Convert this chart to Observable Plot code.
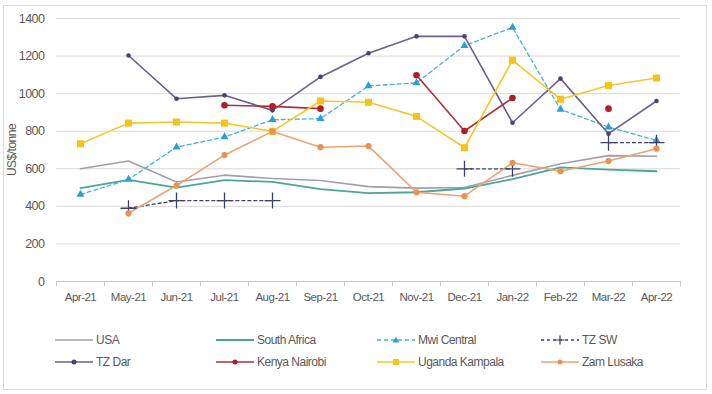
<!DOCTYPE html>
<html>
<head>
<meta charset="utf-8">
<script src="https://cdn.jsdelivr.net/npm/d3@7"></script>
<script src="https://cdn.jsdelivr.net/npm/@observablehq/plot@0.6"></script>
<style>
  body { margin: 0; background: #fff; font-family: "Liberation Sans", Arial, sans-serif; }
  #wrap { position: relative; width: 712px; height: 394px; overflow: hidden; }
  #frame { position: absolute; left: 3px; top: 5px; width: 704px; height: 385px; border: 1px solid #dcdcdc; box-sizing: border-box; }
  #chart { position: absolute; left: 0; top: 0; }
  #legend { position: absolute; left: 0; top: 0; width: 712px; height: 394px; pointer-events: none; }
  .li { position: absolute; display: flex; align-items: center; font-size: 12px; color: #595959; letter-spacing: -0.5px; white-space: nowrap; }
  .li svg { margin-right: 3px; }
</style>
</head>
<body>
<div id="wrap">
  <div id="frame"></div>
  <div id="chart"></div>
  <div id="legend"></div>
</div>
<script>
const months = ["Apr-21","May-21","Jun-21","Jul-21","Aug-21","Sep-21","Oct-21","Nov-21","Dec-21","Jan-22","Feb-22","Mar-22","Apr-22"];
const yTicks = [0, 200, 400, 600, 800, 1000, 1200, 1400];

const usa          = [600, 641, 530, 566, 548, 538, 505, 497, 500, 565, 627, 670, 667];
const southAfrica  = [497, 541, 500, 540, 530, 492, 470, 475, 495, 545, 607, 595, 587];
const mwiCentral   = [463, 543, 715, 769, 861, 867, 1041, 1057, 1256, 1352, 916, 822, 751];
const tzSW         = [null, 390, 431, 431, 431, null, null, null, 600, 600, null, 739, 739];
const tzDar        = [null, 1203, 973, 991, 911, 1089, 1215, 1305, 1305, 845, 1080, 787, 961];
const kenyaNairobi = [null, null, null, 938, 932, 920, null, 1098, 801, 977, null, 920, null];
const ugandaKampala= [733, 843, 849, 843, 799, 961, 954, 879, 712, 1178, 970, 1043, 1083];
const zamLusaka    = [null, 363, 511, 673, 799, 715, 721, 475, 454, 632, 587, 641, 707];

const seriesNames = ["USA","South Africa","Mwi Central","TZ SW","TZ Dar","Kenya Nairobi","Uganda Kampala","Zam Lusaka"];
const seriesValues = [usa, southAfrica, mwiCentral, tzSW, tzDar, kenyaNairobi, ugandaKampala, zamLusaka];

const style = {
  "USA":            {line: "#a39ea8", width: 1.6, dash: null,  symbol: null,       mk: null,      r: 0},
  "South Africa":   {line: "#4aa892", width: 1.8, dash: null,  symbol: null,       mk: null,      r: 0},
  "Mwi Central":    {line: "#45b0de", width: 1.3, dash: "4,3", symbol: "triangle", mk: "#2b9fd9", r: 3.0},
  "TZ SW":          {line: "#3b3f6e", width: 1.3, dash: "3,3", symbol: "plus",     mk: "#3b3f6e", r: 5.2},
  "TZ Dar":         {line: "#6d5f92", width: 1.6, dash: null,  symbol: "circle",   mk: "#4e3f7a", r: 2.3},
  "Kenya Nairobi":  {line: "#a8323a", width: 1.6, dash: null,  symbol: "circle",   mk: "#b01e23", r: 3.3},
  "Uganda Kampala": {line: "#f5c72c", width: 1.6, dash: null,  symbol: "square",   mk: "#f7c31a", r: 4.0},
  "Zam Lusaka":     {line: "#eba572", width: 1.6, dash: null,  symbol: "circle",   mk: "#ea9250", r: 3.1}
};

const rows = [];
seriesNames.forEach((s, si) => {
  months.forEach((m, i) => rows.push({series: s, month: m, value: seriesValues[si][i]}));
});

const marks = [
  Plot.ruleY(yTicks.filter(d => d > 0), {y: d => d, stroke: "#d9d9d9", strokeWidth: 1}),
  Plot.ruleY([0], {stroke: "#c8c8c8", strokeWidth: 1}),
  Plot.ruleX(months, {x: d => d, dx: -24, y1: 0, y2: -30, stroke: "#c8c8c8"}),
  Plot.ruleX(months.slice(-1), {x: d => d, dx: 24, y1: 0, y2: -30, stroke: "#c8c8c8"})
];

seriesNames.forEach(s => {
  const st = style[s];
  const data = rows.filter(r => r.series === s);
  marks.push(Plot.line(data, {
    x: "month", y: "value", stroke: st.line, strokeWidth: st.width,
    strokeDasharray: st.dash, defined: d => d.value != null, curve: "linear"
  }));
});
seriesNames.forEach(s => {
  const st = style[s];
  if (!st.symbol) return;
  const data = rows.filter(r => r.series === s && r.value != null);
  if (st.symbol === "plus") {
    marks.push(Plot.dot(data, {x: "month", y: "value", symbol: "plus", r: st.r, stroke: st.mk, strokeWidth: 1.3, fill: "none"}));
  } else {
    marks.push(Plot.dot(data, {x: "month", y: "value", symbol: st.symbol, r: st.r, fill: st.mk, stroke: "none"}));
  }
});

marks.push(Plot.axisY({ticks: yTicks, tickFormat: d => String(d), tickSize: 0, tickPadding: 12, label: null, fontSize: 12.5, color: "#595959"}));
marks.push(Plot.axisX({tickSize: 0, tickPadding: 11, label: null, fontSize: 11.5, color: "#595959"}));
marks.push(Plot.text(["US$/tonne"], {frameAnchor: "left", dx: -44, y: 700, rotate: -90, textAnchor: "middle", text: d => d, fontSize: 12, fill: "#595959"}));

const chart = Plot.plot({
  width: 712,
  height: 320,
  marginTop: 18,
  marginBottom: 39,
  marginLeft: 56,
  marginRight: 32,
  style: {fontFamily: "'Liberation Sans', Arial, sans-serif", background: "transparent", overflow: "visible"},
  x: {type: "point", domain: months, padding: 0.5},
  y: {domain: [0, 1400], clamp: false},
  marks
});
chart.querySelectorAll("text").forEach(t => t.setAttribute("letter-spacing", "-0.5"));
document.getElementById("chart").appendChild(chart);

// legend
const legendCols = [55, 216, 377, 541];
const legendRows = [340, 362];
const legend = document.getElementById("legend");
seriesNames.forEach((s, i) => {
  const st = style[s];
  const col = i % 4, row = Math.floor(i / 4);
  const div = document.createElement("div");
  div.className = "li";
  div.style.left = legendCols[col] + "px";
  div.style.top = (legendRows[row] - 9) + "px";
  div.style.height = "18px";
  const w = 38;
  let marker = "";
  const cx = w / 2, cy = 9;
  if (st.symbol === "circle") marker = `<circle cx="${cx}" cy="${cy}" r="2.5" fill="${st.mk}"/>`;
  if (st.symbol === "square") marker = `<rect x="${cx-3}" y="${cy-3}" width="6" height="6" fill="${st.mk}"/>`;
  if (st.symbol === "triangle") marker = `<path d="M${cx},${cy-3.4}L${cx+3.2},${cy+2.4}L${cx-3.2},${cy+2.4}Z" fill="${st.mk}"/>`;
  if (st.symbol === "plus") marker = `<path d="M${cx-4.5},${cy}H${cx+4.5}M${cx},${cy-4.5}V${cy+4.5}" stroke="${st.mk}" stroke-width="1.2"/>`;
  div.innerHTML = `<svg width="${w}" height="18"><line x1="0" x2="${w}" y1="${cy}" y2="${cy}" stroke="${st.line}" stroke-width="${st.width}" ${st.dash ? `stroke-dasharray="${st.dash}"` : ""}/>${marker}</svg><span>${s}</span>`;
  legend.appendChild(div);
});
</script>
</body>
</html>
